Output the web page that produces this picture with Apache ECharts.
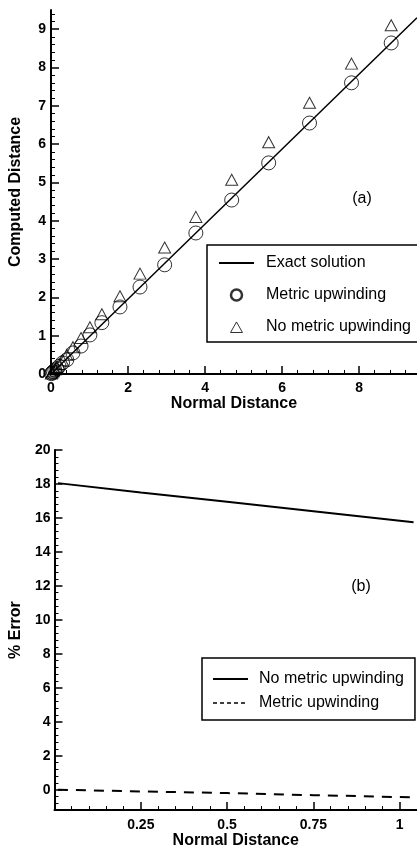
<!DOCTYPE html>
<html><head><meta charset="utf-8">
<script src="https://cdn.jsdelivr.net/npm/echarts@6/dist/echarts.min.js"></script>
<style>html,body{margin:0;padding:0;background:#fff}#c{width:417px;height:850px}</style>
</head><body><div id="c"></div>
<script>
// ---- Chart (a): computed vs normal distance ----
const normalDistance   = [8.83, 7.80, 6.71, 5.65, 4.69, 3.76, 2.95, 2.31, 1.79, 1.32, 1.01, 0.78, 0.57, 0.41, 0.30, 0.21, 0.15, 0.10, 0.06, 0.03, 0.01];
const computedMetric   = [8.64, 7.60, 6.55, 5.51, 4.54, 3.68, 2.85, 2.27, 1.75, 1.34, 1.02, 0.73, 0.55, 0.37, 0.29, 0.20, 0.14, 0.10, 0.06, 0.03, 0.01];
const computedNoMetric = [9.10, 8.10, 7.08, 6.05, 5.07, 4.10, 3.30, 2.62, 2.03, 1.56, 1.22, 0.94, 0.70, 0.50, 0.36, 0.26, 0.18, 0.12, 0.07, 0.04, 0.01];
const exactX = [0, 9.5];
const exactY = [0, 9.3];

// ---- Chart (b): % error vs normal distance ----
const errX        = [0.01, 0.25, 0.5, 0.75, 1.04];
const errNoMetric = [18.05, 17.5, 16.95, 16.4, 15.75];
const errMetric   = [0.0, -0.1, -0.2, -0.32, -0.45];

// ---- tick values ----
const topXMajor = [0, 2, 4, 6, 8];
const topYMajor = [0, 1, 2, 3, 4, 5, 6, 7, 8, 9];
const botXMajor = [0.25, 0.5, 0.75, 1];
const botYMajor = [0, 2, 4, 6, 8, 10, 12, 14, 16, 18, 20];
const topXMinorStep = 0.4, topYMinorStep = 0.2, botXMinorStep = 0.05, botYMinorStep = 0.4;

function minors(from, to, step, majors) {
  const out = [];
  const k0 = Math.ceil(from / step - 1e-9), k1 = Math.floor(to / step + 1e-9);
  for (let k = k0; k <= k1; k++) {
    const v = Math.round(k * step * 1000) / 1000;
    if (!majors.some(m => Math.abs(m - v) < 1e-6)) out.push(v);
  }
  return out;
}

const FONT = '"Liberation Sans", Arial, Helvetica, sans-serif';
const BLACK = '#000';
const zip = (a, b) => a.map((v, i) => [v, b[i]]);

function mainAxis(opts) {
  return Object.assign({
    type: 'value',
    splitLine: { show: false },
    axisLine: { show: true, onZero: false, lineStyle: { color: BLACK, width: 2 } },
    axisTick: { show: true, inside: true, length: 8, customValues: opts.majors, lineStyle: { color: BLACK, width: 1.5 } },
    axisLabel: { show: true, customValues: opts.labels || opts.majors, color: BLACK, fontSize: 14, fontWeight: 'bold', fontFamily: FONT, margin: opts.margin, formatter: v => String(v) },
    nameTextStyle: { color: BLACK, fontSize: 16, fontWeight: 'bold', fontFamily: FONT }
  }, opts.extra);
}
function minorAxis(opts) {
  return Object.assign({
    type: 'value',
    splitLine: { show: false },
    axisLine: { show: false, onZero: false },
    axisLabel: { show: false },
    axisTick: { show: true, inside: true, length: 4, customValues: opts.values, lineStyle: { color: BLACK, width: 1 } }
  }, opts.extra);
}

const displayNames = { 'errNo': 'No metric upwinding', 'errMet': 'Metric upwinding' };
const hiddenSymbol = { opacity: 0, color: 'rgba(0,0,0,0)', borderWidth: 0 };
// legend triangle icon: bounding box matches the 35x11 legend icon box so it is not stretched
const triangleIcon = 'path://M0,12 L0,12 M35,0 L35,0 M11,12 L17.5,0.5 L24,12 Z';

const option = {
  animation: false,
  backgroundColor: '#fff',
  textStyle: { fontFamily: FONT },
  grid: [
    { left: 51, right: 0, top: 10, bottom: 476 },
    { left: 48, right: 0, top: 450, bottom: 37 }
  ],
  xAxis: [
    mainAxis({ majors: topXMajor, margin: 7, extra: { gridIndex: 0, min: 0, max: 9.5, position: 'bottom', name: 'Normal Distance', nameLocation: 'middle', nameGap: 16 } }),
    minorAxis({ values: minors(0, 9.4, topXMinorStep, topXMajor), extra: { gridIndex: 0, min: 0, max: 9.5, position: 'bottom' } }),
    mainAxis({ majors: botXMajor, margin: 8, extra: { gridIndex: 1, min: 0, max: 1.05, position: 'bottom', name: 'Normal Distance', nameLocation: 'middle', nameGap: 19 } }),
    minorAxis({ values: minors(0.05, 1.0, botXMinorStep, botXMajor), extra: { gridIndex: 1, min: 0, max: 1.05, position: 'bottom' } })
  ],
  yAxis: [
    mainAxis({ majors: topYMajor, margin: 5, extra: { gridIndex: 0, min: 0, max: 9.5, position: 'left', name: 'Computed Distance', nameLocation: 'middle', nameGap: 27 } }),
    minorAxis({ values: minors(0.2, 9.4, topYMinorStep, topYMajor), extra: { gridIndex: 0, min: 0, max: 9.5, position: 'left' } }),
    mainAxis({ majors: botYMajor, margin: 4, extra: { gridIndex: 1, min: -1.2, max: 20, position: 'left', name: '% Error', nameLocation: 'middle', nameGap: 28 } }),
    minorAxis({ values: minors(-0.8, 19.6, botYMinorStep, botYMajor), extra: { gridIndex: 1, min: -1.2, max: 20, position: 'left' } })
  ],
  legend: [
    {
      orient: 'vertical', left: 207, top: 245,
      padding: [9, 8, 6, 11], itemGap: 14, itemWidth: 35, itemHeight: 11,
      borderColor: BLACK, borderWidth: 1.5, borderRadius: 0,
      textStyle: { color: BLACK, fontSize: 16, fontFamily: FONT, lineHeight: 18, padding: [0, 0, 0, 7] },
      data: [
        { name: 'Exact solution', itemStyle: hiddenSymbol },
        { name: 'Metric upwinding', itemStyle: { borderWidth: 2.5 } },
        { name: 'No metric upwinding', icon: triangleIcon, itemStyle: { color: 'rgba(0,0,0,0)', borderColor: BLACK, borderWidth: 1 } }
      ]
    },
    {
      orient: 'vertical', left: 202, top: 658,
      padding: [12, 11, 8, 10], itemGap: 6, itemWidth: 35, itemHeight: 11,
      borderColor: BLACK, borderWidth: 1.5, borderRadius: 0,
      textStyle: { color: BLACK, fontSize: 16, fontFamily: FONT, lineHeight: 18, padding: [0, 0, 0, 6] },
      formatter: n => displayNames[n] || n,
      data: [
        { name: 'errNo', itemStyle: hiddenSymbol },
        { name: 'errMet', itemStyle: hiddenSymbol, lineStyle: { type: [4, 3], width: 1.5 } }
      ]
    }
  ],
  graphic: [
    { type: 'text', x: 362, y: 199, style: { text: '(a)', fontSize: 16, fontFamily: FONT, fill: BLACK, align: 'center', verticalAlign: 'middle', textAlign: 'center', textVerticalAlign: 'middle' } },
    { type: 'text', x: 361, y: 587, style: { text: '(b)', fontSize: 16, fontFamily: FONT, fill: BLACK, align: 'center', verticalAlign: 'middle', textAlign: 'center', textVerticalAlign: 'middle' } }
  ],
  series: [
    {
      name: 'Exact solution', type: 'line', xAxisIndex: 0, yAxisIndex: 0,
      data: zip(exactX, exactY), symbol: 'none',
      lineStyle: { color: BLACK, width: 1.5 }, itemStyle: { color: BLACK }
    },
    {
      name: 'Metric upwinding', type: 'scatter', xAxisIndex: 0, yAxisIndex: 0,
      data: zip(normalDistance, computedMetric), symbol: 'circle', symbolSize: 14,
      itemStyle: { color: 'rgba(0,0,0,0)', borderColor: BLACK, borderWidth: 1 }
    },
    {
      name: 'No metric upwinding', type: 'scatter', xAxisIndex: 0, yAxisIndex: 0,
      data: zip(normalDistance, computedNoMetric), symbol: 'triangle', symbolSize: [12, 11],
      itemStyle: { color: 'rgba(0,0,0,0)', borderColor: BLACK, borderWidth: 1 }
    },
    {
      name: 'errNo', type: 'line', xAxisIndex: 2, yAxisIndex: 2,
      data: zip(errX, errNoMetric), symbol: 'none',
      lineStyle: { color: BLACK, width: 2 }, itemStyle: { color: BLACK }
    },
    {
      name: 'errMet', type: 'line', xAxisIndex: 2, yAxisIndex: 2,
      data: zip(errX, errMetric), symbol: 'none',
      lineStyle: { color: BLACK, width: 2, type: [10, 8] }, itemStyle: { color: BLACK }
    }
  ]
};

const chart = echarts.init(document.getElementById('c'), null, { renderer: 'canvas' });
chart.setOption(option);
</script>
</body></html>
